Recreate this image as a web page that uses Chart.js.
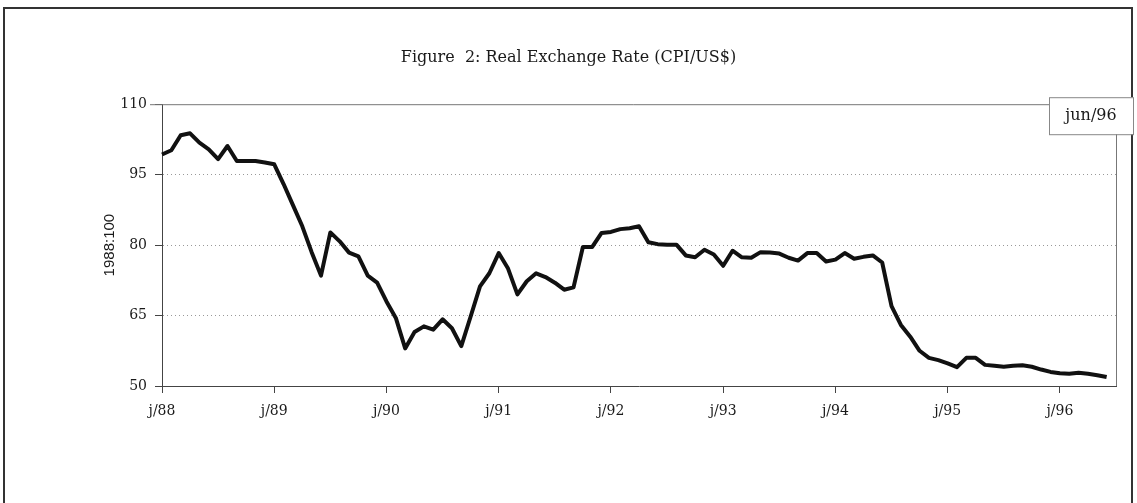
<!DOCTYPE html>
<html>
<head>
<meta charset="utf-8">
<script src="https://cdn.jsdelivr.net/npm/chart.js@4.4.0/dist/chart.umd.min.js"></script>
<style>
  html, body { margin: 0; padding: 0; background: #fff; }
  #frame {
    position: absolute; left: 3px; top: 7px; width: 1130px; height: 530px;
    border: 2px solid #333; border-bottom: none; box-sizing: border-box;
  }
  #wrap { position: absolute; left: 0; top: 0; width: 1137px; height: 503px; }
</style>
</head>
<body>
<div id="frame"></div>
<div id="wrap"><canvas id="rerChart" width="1137" height="503"></canvas></div>
<script>
// Real exchange rate, monthly, jan/88 .. jun/96 (1988 = 100)
const years = ["88", "89", "90", "91", "92", "93", "94", "95", "96"];
const monthNames = ["jan", "fev", "mar", "abr", "mai", "jun", "jul", "ago", "set", "out", "nov", "dez"];
const yearTicks = ["j/88", "j/89", "j/90", "j/91", "j/92", "j/93", "j/94", "j/95", "j/96"];

const rer = [
    99.3, 100.2, 103.4, 103.8, 101.8, 100.4, 98.3, 101.1, 97.9, 97.9, 97.9, 97.6,
    97.2, 93.0, 88.5, 84.0, 78.5, 73.5, 82.7, 80.8, 78.4, 77.6, 73.5, 72.0,
    68.0, 64.5, 58.0, 61.5, 62.7, 62.0, 64.2, 62.3, 58.5, 64.8, 71.2, 74.0,
    78.3, 75.0, 69.5, 72.3, 74.0, 73.2, 72.0, 70.5, 71.0, 79.6, 79.6, 82.6,
    82.8, 83.4, 83.6, 84.0, 80.6, 80.2, 80.1, 80.1, 77.8, 77.4, 79.0, 78.0,
    75.6, 78.8, 77.4, 77.3, 78.5, 78.4, 78.2, 77.3, 76.7, 78.3, 78.3, 76.5,
    76.9, 78.3, 77.1, 77.5, 77.8, 76.3, 67.0, 63.0, 60.5, 57.5, 56.0, 55.5,
    54.8, 54.0, 56.0, 56.0, 54.5, 54.3, 54.1, 54.3, 54.4, 54.1, 53.5, 53.0,
    52.7, 52.6, 52.8, 52.6, 52.3, 51.9,
];

const lastLabel = "jun/96";

// one category per month, plus one empty slot so the axis runs to jul/96
const months = [];
years.forEach((yy) => monthNames.forEach((m) => months.push(m + "/" + yy)));
months.length = rer.length + 1;

const serif = "'DejaVu Serif', 'Liberation Serif', serif";

// plot frame (top and right edges) and the "jun/96" data label box
const plotFrame = {
    id: "plotFrame",
    beforeDatasetsDraw(chart) {
        const { ctx, chartArea } = chart;
        ctx.save();
        ctx.strokeStyle = "#777";
        ctx.lineWidth = 1;
        ctx.beginPath();
        ctx.moveTo(chartArea.left - 12, chartArea.top + 0.5);
        ctx.lineTo(chartArea.right + 0.5, chartArea.top + 0.5);
        ctx.lineTo(chartArea.right + 0.5, chartArea.bottom);
        ctx.stroke();
        ctx.restore();
    },
    afterDraw(chart) {
        const { ctx, chartArea } = chart;
        const x = chartArea.right - 67;
        const y = chartArea.top - 7;
        ctx.save();
        ctx.fillStyle = "#fff";
        ctx.fillRect(x, y, 84, 37);
        ctx.strokeStyle = "#888";
        ctx.lineWidth = 1;
        ctx.strokeRect(x + 0.5, y + 0.5, 84, 37);
        ctx.fillStyle = "#1a1a1a";
        ctx.font = "16px " + serif;
        ctx.textAlign = "center";
        ctx.textBaseline = "middle";
        ctx.fillText(lastLabel, x + 42, y + 19);
        ctx.restore();
    },
};

new Chart(document.getElementById("rerChart").getContext("2d"), {
    type: "line",

    data: {
        labels: months,

        datasets: [
            {
                label: "Real Exchange Rate",

                data: rer,

                borderColor: "#111",

                borderWidth: 4,

                pointRadius: 0,

                tension: 0,

                borderJoinStyle: "round",
            },
        ],
    },

    options: {
        responsive: false,

        animation: false,

        layout: {
            padding: { left: 0, right: 0, top: 0, bottom: 0 },
        },

        plugins: {
            legend: { display: false },

            tooltip: { enabled: false },

            title: {
                display: true,
                text: "Figure  2: Real Exchange Rate (CPI/US$)",
                color: "#1a1a1a",
                font: { family: serif, size: 16, weight: "normal" },
                padding: { top: 48, bottom: 37 },
            },
        },

        scales: {
            x: {
                type: "category",
                offset: false,
                afterFit: (scale) => {
                    scale.height = 117;
                },
                grid: {
                    drawOnChartArea: false,
                    tickLength: 7,
                    color: (ctx) => (ctx.index % 12 === 0 ? "#444" : "transparent"),
                },
                border: { color: "#444", width: 1 },
                ticks: {
                    autoSkip: false,
                    maxRotation: 0,
                    padding: 10,
                    color: "#1a1a1a",
                    font: { family: serif, size: 14 },
                    callback: (value, index) => (index % 12 === 0 ? yearTicks[index / 12] : ""),
                },
            },

            y: {
                min: 50,
                max: 110,
                afterFit: (scale) => {
                    scale.width = 162;
                },
                grid: {
                    color: (ctx) =>
                        ctx.tick && (ctx.tick.value === 50 || ctx.tick.value === 110) ? "transparent" : "#999",
                    tickColor: "#444",
                    tickLength: 7,
                },
                border: { color: "#444", width: 1, dash: [1, 3] },
                ticks: {
                    stepSize: 15,
                    padding: 8,
                    color: "#1a1a1a",
                    font: { family: serif, size: 14 },
                },
                title: {
                    display: true,
                    text: "1988:100",
                    color: "#1a1a1a",
                    font: { family: "'Liberation Sans', Arial, sans-serif", size: 15 },
                    padding: { top: 101, bottom: 0 },
                },
            },

            // empty right-hand margin so the title stays centred on the page
            yRight: {
                position: "right",
                min: 50,
                max: 110,
                afterFit: (scale) => {
                    scale.width = 21;
                },
                grid: { display: false },
                border: { display: false },
                ticks: { display: false },
            },
        },
    },

    plugins: [plotFrame],
});
</script>
</body>
</html>
